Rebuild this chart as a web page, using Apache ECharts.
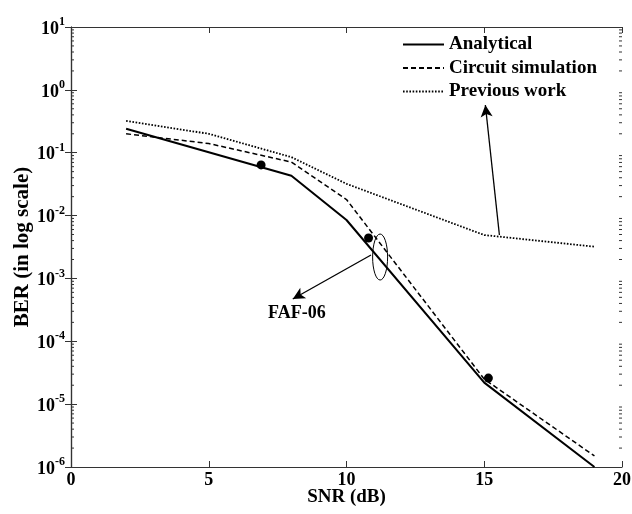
<!DOCTYPE html>
<html>
<head>
<meta charset="utf-8">
<script src="https://cdn.jsdelivr.net/npm/echarts@6/dist/echarts.min.js"></script>
<style>html,body{margin:0;padding:0;background:#fff;}#c{width:632px;height:514px;}</style>
</head>
<body>
<div id="c"></div>
<script>
// ---- data ----
const analyticalSNR = [2, 8, 10, 15, 19];
const analyticalBER = [0.24, 0.043, 0.0085, 0.000022, 0.000001];
const circuitSNR = [2, 5, 8, 10, 15, 19];
const circuitBER = [0.2, 0.14, 0.071, 0.018, 0.000025, 0.0000015];
const previousSNR = [2, 5, 8, 10, 15, 19];
const previousBER = [0.32, 0.2, 0.085, 0.032, 0.0049, 0.0032];
const dotSNR = [6.9, 10.8, 15.15];
const dotBER = [0.064, 0.0044, 0.000026];
const xTicks = [0, 5, 10, 15, 20];
const yExponents = [-6, -5, -4, -3, -2, -1, 0, 1];
// annotations (data coordinates)
const fafArrow = [[10.89, 0.00236], [8.05, 0.000471]];
const fafLabel = [8.2, 0.00028];
const fafEllipse = [11.22, 0.00219];
const prevArrow = [[15.55, 0.0049], [15.04, 0.574]];

const zip = (xs, ys) => xs.map((x, i) => [x, ys[i]]);
const minorTicks = [];
for (let e = -6; e < 1; e++) for (let k = 2; k <= 9; k++) minorTicks.push([0, k * Math.pow(10, e)]);

const serif = '"Liberation Serif", "Times New Roman", serif';
const axisColor = '#333';

const chart = echarts.init(document.getElementById('c'));
chart.setOption({
  animation: false,
  backgroundColor: '#fff',
  textStyle: { fontFamily: serif },
  grid: { left: 71, right: 10, top: 27, bottom: 47, containLabel: false, outerBoundsMode: 'none' },
  legend: {
    data: ['Analytical', 'Circuit simulation', 'Previous work'],
    orient: 'vertical', left: 397, top: 30,
    itemWidth: 41, itemHeight: 20, itemGap: 4.5,
    itemStyle: { opacity: 0 },
    textStyle: { fontFamily: serif, fontWeight: 'bold', fontSize: 19, color: '#000' }
  },
  xAxis: [{
    type: 'value', min: 0, max: 20, interval: 5,
    name: 'SNR (dB)', nameLocation: 'middle', nameGap: 21, nameMoveOverlap: false,
    nameTextStyle: { fontFamily: serif, fontWeight: 'bold', fontSize: 19, color: '#000' },
    axisLine: { lineStyle: { color: axisColor, width: 1.2 } },
    axisTick: { inside: true, length: 6, lineStyle: { color: axisColor } },
    axisLabel: { fontFamily: serif, fontWeight: 'bold', fontSize: 18, color: '#000', margin: 4,
      formatter: v => xTicks.includes(v) ? String(v) : '' },
    splitLine: { show: false }
  }, {
    type: 'value', min: 0, max: 20, interval: 5, position: 'top',
    axisLine: { lineStyle: { color: axisColor, width: 1.2 } },
    axisTick: { inside: true, length: 6, lineStyle: { color: axisColor } },
    axisLabel: { show: false }, splitLine: { show: false }
  }],
  yAxis: [{
    type: 'log', logBase: 10, min: 1e-6, max: 10,
    name: 'BER (in log scale)', nameLocation: 'middle', nameGap: 38, nameRotate: 90, nameMoveOverlap: false,
    nameTextStyle: { fontFamily: serif, fontWeight: 'bold', fontSize: 21, color: '#000' },
    axisLine: { show: true, lineStyle: { color: axisColor, width: 1.2 } },
    axisTick: { inside: true, length: 6, lineStyle: { color: axisColor } },
    axisLabel: {
      margin: 6,
      formatter: v => {
        const e = Math.round(Math.log10(v));
        return yExponents.includes(e) ? '{b|10}{s|' + e + '}' : '';
      },
      rich: {
        b: { fontFamily: serif, fontWeight: 'bold', fontSize: 18, color: '#000', verticalAlign: 'bottom' },
        s: { fontFamily: serif, fontWeight: 'bold', fontSize: 12, color: '#000', padding: [0, 0, 10, 0], verticalAlign: 'bottom' }
      }
    },
    splitLine: { show: false }
  }, {
    type: 'log', logBase: 10, min: 1e-6, max: 10, position: 'right',
    axisLine: { show: true, lineStyle: { color: axisColor, width: 1.2 } },
    axisTick: { inside: true, length: 6, lineStyle: { color: axisColor } },
    axisLabel: { show: false }, splitLine: { show: false }
  }],
  series: [
    {
      name: 'Analytical', type: 'line', data: zip(analyticalSNR, analyticalBER),
      symbol: 'none', lineStyle: { color: '#000', width: 2, type: 'solid' }, itemStyle: { color: '#000' }
    },
    {
      name: 'Circuit simulation', type: 'line', data: zip(circuitSNR, circuitBER),
      symbol: 'none', lineStyle: { color: '#000', width: 1.5, type: [5, 3] }, itemStyle: { color: '#000' }
    },
    {
      name: 'Previous work', type: 'line', data: zip(previousSNR, previousBER),
      symbol: 'none', lineStyle: { color: '#000', width: 1.8, type: [1.6, 1.6] }, itemStyle: { color: '#000' },
      markLine: {
        silent: true, symbol: ['none', 'arrow'], symbolSize: [9, 12], label: { show: false },
        lineStyle: { color: '#000', width: 1.3, type: 'solid' },
        data: [
          [{ coord: fafArrow[0] }, { coord: fafArrow[1] }],
          [{ coord: prevArrow[0] }, { coord: prevArrow[1] }]
        ]
      }
    },
    {
      name: 'points', type: 'scatter', data: zip(dotSNR, dotBER),
      symbol: 'circle', symbolSize: 9, itemStyle: { color: '#000', opacity: 1 }, silent: true
    },
    {
      name: 'annot', type: 'custom', silent: true, clip: false,
      data: [[fafEllipse[0], fafEllipse[1]]],
      renderItem: (params, api) => {
        const c = api.coord([api.value(0), api.value(1)]);
        const t = api.coord(fafLabel);
        return { type: 'group', children: [
          { type: 'ellipse', shape: { cx: c[0], cy: c[1], rx: 7.5, ry: 23 },
            style: { fill: 'none', stroke: '#000', lineWidth: 1 } },
          { type: 'text', x: t[0], y: t[1],
            style: { text: 'FAF-06', fontFamily: serif, fontWeight: 'bold', fontSize: 18, fill: '#000', align: 'center', verticalAlign: 'middle' } }
        ]};
      }
    },
    {
      name: 'minor', type: 'custom', silent: true, clip: false,
      data: minorTicks,
      renderItem: (params, api) => {
        const cs = params.coordSys;
        const y = api.coord([0, api.value(1)])[1];
        const st = { stroke: axisColor, lineWidth: 1 };
        return { type: 'group', children: [
          { type: 'line', shape: { x1: cs.x, y1: y, x2: cs.x + 3, y2: y }, style: st },
          { type: 'line', shape: { x1: cs.x + cs.width - 3, y1: y, x2: cs.x + cs.width, y2: y }, style: st }
        ]};
      }
    }
  ]
});
</script>
</body>
</html>
